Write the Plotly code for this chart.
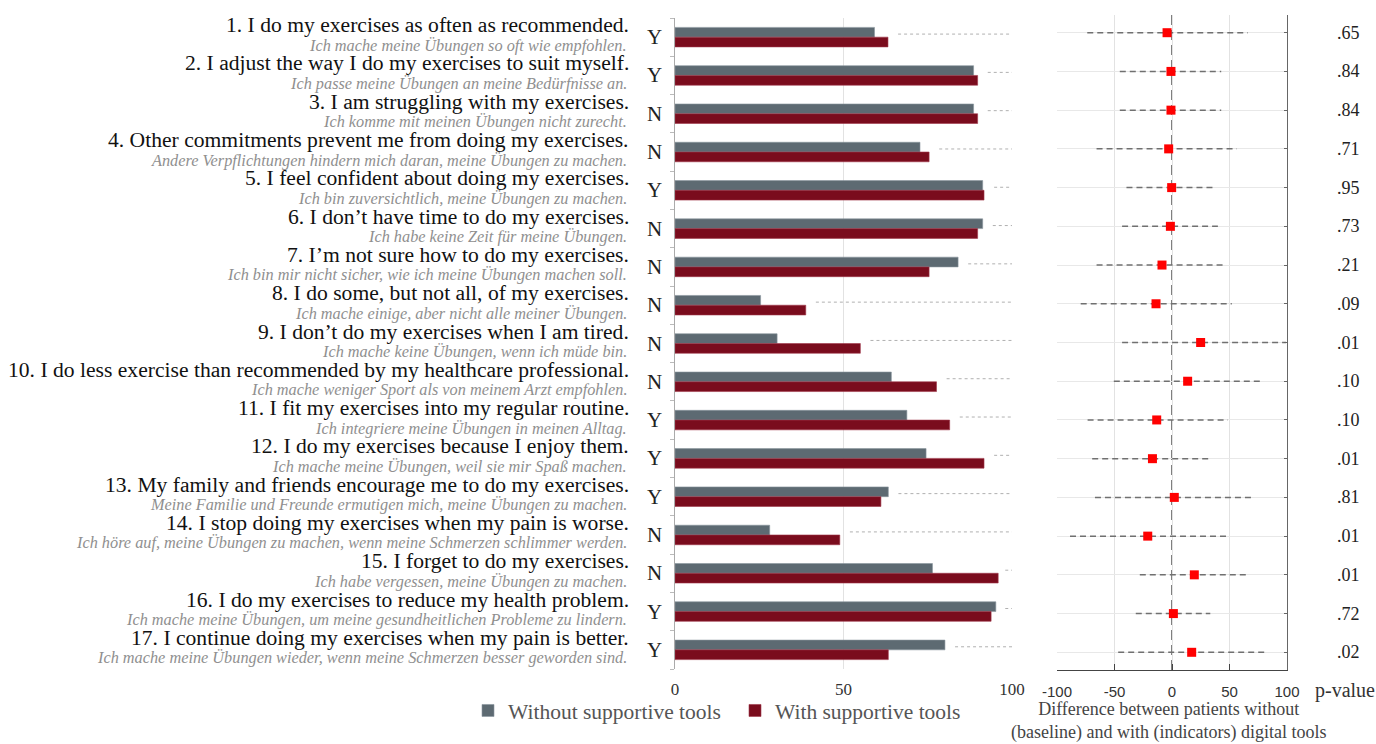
import plotly.graph_objects as go

# ---------------- data ----------------
items_en = [
    "1. I do my exercises as often as recommended.",
    "2. I adjust the way I do my exercises to suit myself.",
    "3. I am struggling with my exercises.",
    "4. Other commitments prevent me from doing my exercises.",
    "5. I feel confident about doing my exercises.",
    "6. I don’t have time to do my exercises.",
    "7. I’m not sure how to do my exercises.",
    "8. I do some, but not all, of my exercises.",
    "9. I don’t do my exercises when I am tired.",
    "10. I do less exercise than recommended by my healthcare professional.",
    "11. I fit my exercises into my regular routine.",
    "12. I do my exercises because I enjoy them.",
    "13. My family and friends encourage me to do my exercises.",
    "14. I stop doing my exercises when my pain is worse.",
    "15. I forget to do my exercises.",
    "16. I do my exercises to reduce my health problem.",
    "17. I continue doing my exercises when my pain is better.",
]
items_de = [
    "Ich mache meine Übungen so oft wie empfohlen.",
    "Ich passe meine Übungen an meine Bedürfnisse an.",
    "Ich komme mit meinen Übungen nicht zurecht.",
    "Andere Verpflichtungen hindern mich daran, meine Übungen zu machen.",
    "Ich bin zuversichtlich, meine Übungen zu machen.",
    "Ich habe keine Zeit für meine Übungen.",
    "Ich bin mir nicht sicher, wie ich meine Übungen machen soll.",
    "Ich mache einige, aber nicht alle meiner Übungen.",
    "Ich mache keine Übungen, wenn ich müde bin.",
    "Ich mache weniger Sport als von meinem Arzt empfohlen.",
    "Ich integriere meine Übungen in meinen Alltag.",
    "Ich mache meine Übungen, weil sie mir Spaß machen.",
    "Meine Familie und Freunde ermutigen mich, meine Übungen zu machen.",
    "Ich höre auf, meine Übungen zu machen, wenn meine Schmerzen schlimmer werden.",
    "Ich habe vergessen, meine Übungen zu machen.",
    "Ich mache meine Übungen, um meine gesundheitlichen Probleme zu lindern.",
    "Ich mache meine Übungen wieder, wenn meine Schmerzen besser geworden sind.",
]
yn = ["Y", "Y", "N", "N", "Y", "N", "N", "N", "N", "N", "Y", "Y", "Y", "N", "N", "Y", "Y"]

without_tools = [59.2, 88.6, 88.6, 72.7, 91.3, 91.3, 84.0, 25.4, 30.3, 64.2, 68.8, 74.5, 63.3, 28.1, 76.4, 95.2, 80.1]
with_tools = [63.2, 89.8, 89.8, 75.4, 91.7, 89.8, 75.4, 38.8, 55.0, 77.6, 81.5, 91.7, 61.1, 48.9, 95.9, 93.8, 63.3]

diff = [-4.3, -0.9, -0.9, -2.9, -0.3, -1.4, -8.7, -13.9, 24.9, 13.6, -13.3, -17.0, 2.0, -21.1, 19.4, 1.2, 17.1]
ci_low = [-73.7, -45.4, -45.4, -65.6, -39.6, -43.4, -65.6, -79.4, -43.4, -50.6, -73.4, -69.4, -67.0, -88.7, -28.0, -31.5, -46.8]
ci_high = [65.9, 42.8, 42.8, 56.4, 38.5, 39.9, 46.3, 52.0, 99.2, 77.5, 48.6, 33.3, 71.1, 47.2, 65.9, 33.3, 80.4]
p_values = [".65", ".84", ".84", ".71", ".95", ".73", ".21", ".09", ".01", ".10", ".10", ".01", ".81", ".01", ".01", ".72", ".02"]

bar_ticks = [0, 50, 100]
diff_ticks = [-100, -50, 0, 50, 100]
diff_tick_labels = ["-100", "-50", "0", "50", "100"]

# ---------------- figure ----------------
W, H = 1376, 744
SERIF = "Liberation Serif, Times New Roman, serif"
NARROW = "Liberation Sans Narrow, Arial Narrow, Liberation Sans, sans-serif"
GRAY = "#5d6a72"
RED = "#7a0c1d"

n = len(items_en)
idx = list(range(n))

fig = go.Figure()
fig.add_trace(go.Bar(
    y=idx, x=without_tools, orientation="h", name="Without supportive tools",
    marker=dict(color=GRAY, line=dict(color="#8a969e", width=0.6)),
    xaxis="x", yaxis="y",
))
fig.add_trace(go.Bar(
    y=idx, x=with_tools, orientation="h", name="With supportive tools",
    marker=dict(color=RED, line=dict(color="#a0384a", width=0.6)),
    xaxis="x", yaxis="y",
))

# CI dashed lines
cx, cy = [], []
for i in idx:
    cx += [ci_low[i], ci_high[i], None]
    cy += [i, i, None]
fig.add_trace(go.Scatter(
    x=cx, y=cy, mode="lines", line=dict(color="#707070", width=1.5, dash="6px,4px"),
    xaxis="x2", yaxis="y2", showlegend=False, hoverinfo="skip",
))
fig.add_trace(go.Scatter(
    x=diff, y=idx, mode="markers", marker=dict(symbol="square", size=9, color="#ff0000"),
    xaxis="x2", yaxis="y2", showlegend=False,
))

shapes = []
for i in idx:
    start = min(max(without_tools[i], with_tools[i]) + 3, 98)
    shapes.append(dict(type="line", xref="x", yref="y", x0=start, x1=100, y0=i - 0.08, y1=i - 0.08,
                       line=dict(color="#b0b0b0", width=1, dash="dot")))
shapes.append(dict(type="line", xref="x2", yref="y2 domain", x0=0, x1=0, y0=0, y1=1,
                   line=dict(color="#555555", width=1.5, dash="10px,5px"), layer="below"))

annotations = []
for i in idx:
    annotations.append(dict(xref="paper", yref="y", x=631 / W, y=i, yshift=12, xanchor="right", yanchor="middle",
                            text=items_en[i], showarrow=False, font=dict(family=SERIF, size=21.6, color="#111111")))
    annotations.append(dict(xref="paper", yref="y", x=629 / W, y=i, yshift=-8, xanchor="right", yanchor="middle",
                            text="<i>" + items_de[i] + "</i>", showarrow=False,
                            font=dict(family=SERIF, size=16.3, color="#8f8f8f")))
    annotations.append(dict(xref="paper", yref="y", x=654 / W, y=i, xanchor="center", yanchor="middle",
                            text=yn[i], showarrow=False, font=dict(family=SERIF, size=21, color="#222222")))
    annotations.append(dict(xref="paper", yref="y2", x=1348 / W, y=i, xanchor="center", yanchor="middle",
                            text=p_values[i], showarrow=False, font=dict(family=SERIF, size=18, color="#222222")))
annotations.append(dict(xref="paper", yref="paper", x=1345 / W, y=1 - 690 / H, xanchor="center", yanchor="middle",
                        text="p-value", showarrow=False, font=dict(family=SERIF, size=20, color="#333333")))
annotations.append(dict(xref="paper", yref="paper", x=1168 / W, y=1 - 721 / H, xanchor="center", yanchor="middle",
                        text="Difference between patients without<br>(baseline) and with (indicators) digital tools",
                        showarrow=False, font=dict(family=SERIF, size=18, color="#444444")))

fig.update_layout(
    template="none",
    width=W, height=H, margin=dict(l=0, r=0, t=0, b=0, autoexpand=False),
    paper_bgcolor="white", plot_bgcolor="white",
    barmode="group", bargap=0.49, bargroupgap=0,
    shapes=shapes, annotations=annotations,
    xaxis=dict(domain=[675 / W, 1012 / W], range=[0, 100], tickvals=bar_ticks, automargin=False,
               showgrid=True, gridcolor="#e2e2e2", gridwidth=1, zeroline=False, showline=False,
               tickfont=dict(family=SERIF, size=17, color="#333333"), ticks="", ticklabelstandoff=8),
    yaxis=dict(domain=[1 - 669 / H, 1 - 18 / H], range=[n - 0.5, -0.5], automargin=False,
               tickvals=[k - 0.5 for k in range(n + 1)], showticklabels=False,
               ticks="outside", ticklen=4, tickcolor="#bbbbbb",
               showgrid=False, zeroline=False, showline=True, linecolor="#aaaaaa", linewidth=1),
    xaxis2=dict(domain=[1057 / W, 1287 / W], range=[-100, 100], tickvals=diff_ticks, ticktext=diff_tick_labels,
                automargin=False, showgrid=True, gridcolor="#e2e2e2", gridwidth=1, zeroline=False,
                showline=True, linecolor="#444444", linewidth=1, anchor="y2",
                ticks="inside", ticklen=6, tickcolor="#444444", ticklabelstandoff=8,
                tickfont=dict(family=NARROW, size=15, color="#333333")),
    yaxis2=dict(domain=[1 - 670 / H, 1 - 15 / H], range=[n - 1 + 0.457, -0.457], anchor="x2", automargin=False,
                tickvals=idx, showticklabels=False, side="right", ticks="inside", ticklen=3, tickcolor="#666666",
                showgrid=True, gridcolor="#e8e8e8", gridwidth=1, zeroline=False, showline=True, linecolor="#666666",
                linewidth=1.2),
    legend=dict(orientation="h", x=468 / W, y=1 - 690 / H, xanchor="left", yanchor="top",
                font=dict(family=SERIF, size=21.5, color="#555555"), itemwidth=30, entrywidth=222,
                bgcolor="rgba(0,0,0,0)", traceorder="normal"),
    showlegend=True,
)

fig.write_html("out.html")
